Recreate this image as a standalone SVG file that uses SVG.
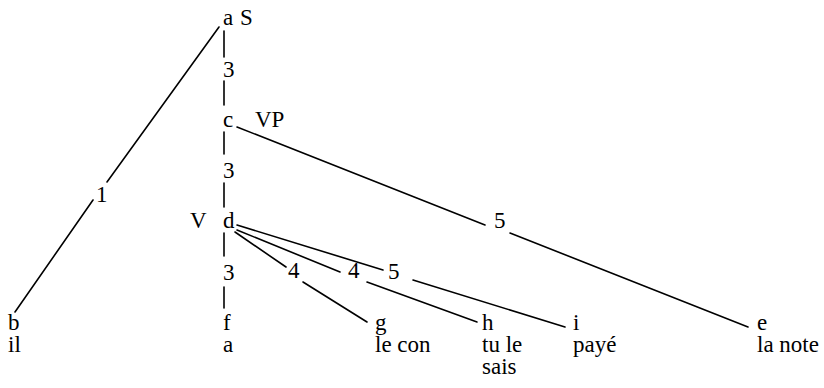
<svg xmlns="http://www.w3.org/2000/svg" width="824" height="388" viewBox="0 0 824 388">
<style>
.t{font-family:'Liberation Serif','DejaVu Serif',serif;font-size:23px;fill:#000}
.e line{stroke:#000;stroke-width:1.6;stroke-linecap:round}
</style>
<rect width="824" height="388" fill="#fff"/>
<g id="connectors" class="e">
<g id="edge-a-b"><line x1="219" y1="27" x2="107" y2="182"/><line x1="93" y1="200" x2="15" y2="312"/></g>
<g id="edge-a-c"><line x1="224" y1="31" x2="224" y2="57"/><line x1="224" y1="81" x2="224" y2="105"/></g>
<g id="edge-c-d"><line x1="224" y1="132" x2="224" y2="154"/><line x1="224" y1="183" x2="224" y2="207"/></g>
<g id="edge-d-f"><line x1="224" y1="233" x2="224" y2="256"/><line x1="224" y1="287" x2="224" y2="308"/></g>
<g id="edge-c-e"><line x1="237" y1="127" x2="485" y2="225"/><line x1="510" y1="233" x2="748" y2="327"/></g>
<g id="edge-d-g"><line x1="235" y1="232" x2="286" y2="267"/><line x1="303" y1="282" x2="367" y2="322"/></g>
<g id="edge-d-h"><line x1="237" y1="230" x2="340" y2="272"/><line x1="367" y1="282" x2="477" y2="322"/></g>
<g id="edge-d-i"><line x1="237" y1="225" x2="383" y2="270"/><line x1="413" y1="280" x2="565" y2="327"/></g>
<g id="edge-labels" class="t">
<text x="96" y="202">1</text><text x="223" y="77">3</text><text x="223" y="178">3</text><text x="223" y="280">3</text>
<text x="494" y="228">5</text><text x="288" y="278">4</text><text x="348" y="278">4</text><text x="388" y="279">5</text>
</g>
</g>
<g class="t">
<g id="node-a"><text x="223" y="25">a</text><text x="240" y="25">S</text></g>
<g id="node-c"><text x="223" y="127">c</text><text x="255" y="127">VP</text></g>
<g id="node-d"><text x="190" y="228">V</text><text x="223" y="228">d</text></g>
<g id="node-b"><text x="8" y="330">b</text><text x="8" y="352">il</text></g>
<g id="node-f"><text x="223" y="330">f</text><text x="223" y="352">a</text></g>
<g id="node-g"><text x="375" y="330">g</text><text x="375" y="352">le con</text></g>
<g id="node-h"><text x="482" y="330">h</text><text x="482" y="352">tu le</text><text x="482" y="374">sais</text></g>
<g id="node-i"><text x="573" y="330">i</text><text x="573" y="352">payé</text></g>
<g id="node-e"><text x="757" y="330">e</text><text x="757" y="352">la note</text></g>
</g>
</svg>
